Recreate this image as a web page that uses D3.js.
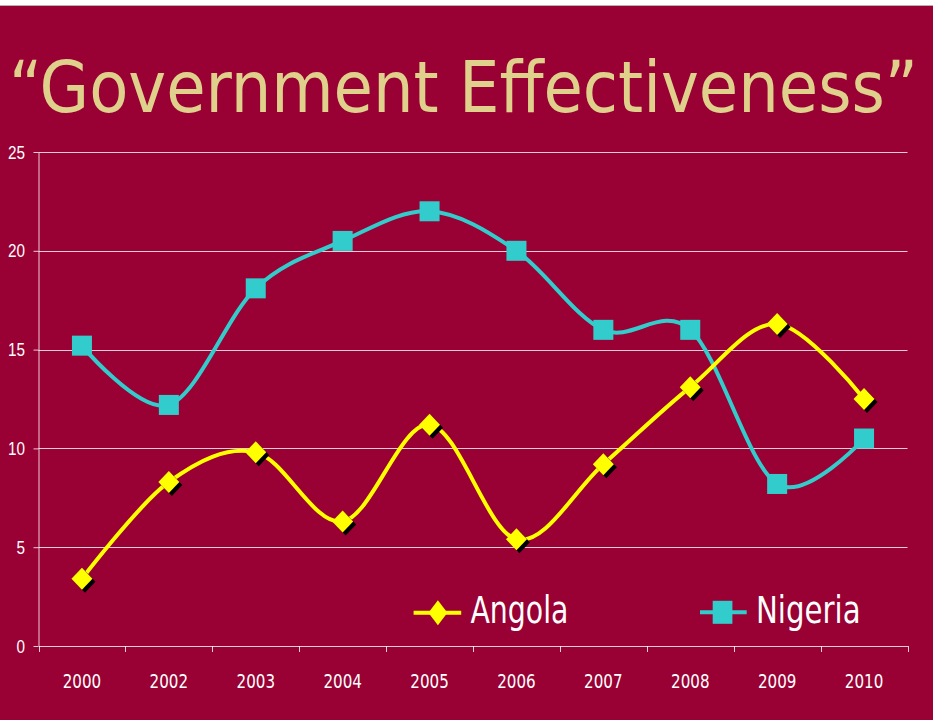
<!DOCTYPE html>
<html>
<head>
<meta charset="utf-8">
<script src="https://cdn.jsdelivr.net/npm/d3@7"></script>
<style>
  html, body { margin: 0; padding: 0; background: #fff; }
  svg { display: block; }
</style>
</head>
<body>
<svg id="chart" width="933" height="720"></svg>
<script>
// Government effectiveness scores, Angola vs Nigeria
const years = ["2000", "2002", "2003", "2004", "2005", "2006", "2007", "2008", "2009", "2010"];
const angola = [3.4, 8.3, 9.8, 6.3, 11.2, 5.4, 9.2, 13.1, 16.3, 12.5];
const nigeria = [15.2, 12.2, 18.1, 20.5, 22.0, 20.0, 16.0, 16.0, 8.2, 10.5];
const yTicks = [0, 5, 10, 15, 20, 25];
const titleText = "\u201CGovernment Effectiveness\u201D";
const seriesNames = ["Angola", "Nigeria"];

const W = 933, H = 720;
const BG = "#990033";
const YELLOW = "#FFFF00";
const TEAL = "#33CCCC";
const TAN = "#DFD08C";

const svg = d3.select("#chart");

// slide background with a thin white strip at the top
svg.append("rect").attr("x", 0).attr("y", 0).attr("width", W).attr("height", H).attr("fill", "#fff");
svg.append("rect").attr("x", 0).attr("y", 6).attr("width", W).attr("height", H - 6).attr("fill", BG);
svg.append("line").attr("x1", 0).attr("x2", W).attr("y1", 5.5).attr("y2", 5.5)
  .attr("stroke", "#b8b0b4").attr("stroke-width", 1);

// title
svg.append("text")
  .attr("x", 9).attr("y", 112)
  .attr("font-family", "'DejaVu Sans Condensed', 'DejaVu Sans', sans-serif")
  .attr("font-size", 71)
  .attr("fill", TAN)
  .attr("textLength", 909)
  .attr("lengthAdjust", "spacingAndGlyphs")
  .text(titleText);

// plot area
const plotLeft = 38.5, plotRight = 907.5, plotTop = 152, plotBottom = 646;

const x = d3.scaleBand().domain(years).range([plotLeft, plotRight]).padding(0);
const y = d3.scaleLinear().domain([0, 25]).range([plotBottom, plotTop]);
const cx = d => x(d) + x.bandwidth() / 2;

// horizontal gridlines
svg.append("g")
  .selectAll("line")
  .data(yTicks.filter(t => t > 0))
  .join("line")
  .attr("x1", plotLeft).attr("x2", plotRight)
  .attr("y1", d => Math.round(y(d)) + 0.5).attr("y2", d => Math.round(y(d)) + 0.5)
  .attr("stroke", "#fff").attr("stroke-opacity", 0.8).attr("stroke-width", 1);

// y axis
const yAxis = svg.append("g")
  .attr("transform", `translate(${plotLeft},0)`)
  .call(d3.axisLeft(y).tickValues(yTicks).tickSize(5).tickPadding(8).tickSizeOuter(0));
yAxis.select(".domain").attr("stroke", "#fff").attr("stroke-opacity", 0.8);
yAxis.selectAll(".tick line").attr("stroke", "#fff").attr("stroke-opacity", 0.8);
yAxis.selectAll(".tick text")
  .attr("fill", "#fff")
  .attr("font-family", "'Liberation Sans', Arial, sans-serif")
  .attr("font-size", 17.5)
  .attr("x", -13.5)
  .attr("dy", "0.35em")
  .attr("textLength", d => String(d).length * 8.5)
  .attr("lengthAdjust", "spacingAndGlyphs");

// x axis with ticks at category boundaries
const xAxis = svg.append("g")
  .attr("transform", `translate(0,${plotBottom})`)
  .call(d3.axisBottom(x).tickSize(0).tickPadding(0).tickSizeOuter(0));
xAxis.select(".domain").attr("stroke", "#fff").attr("stroke-opacity", 0.8);
xAxis.selectAll(".tick text")
  .attr("fill", "#fff")
  .attr("font-family", "'DejaVu Sans Condensed', 'DejaVu Sans', sans-serif")
  .attr("font-size", 20)
  .attr("y", 42).attr("dy", 0)
  .attr("textLength", 38.5)
  .attr("lengthAdjust", "spacingAndGlyphs");
const boundaries = years.map(d => x(d)).concat([plotRight]);
svg.append("g")
  .selectAll("line")
  .data(boundaries)
  .join("line")
  .attr("x1", d => Math.round(d) + 0.5).attr("x2", d => Math.round(d) + 0.5)
  .attr("y1", plotBottom).attr("y2", plotBottom + 6)
  .attr("stroke", "#fff").attr("stroke-opacity", 0.8);

// smoothed series lines
const line = d3.line()
  .x((d, i) => cx(years[i]))
  .y(d => y(d))
  .curve(d3.curveCatmullRom.alpha(0));

svg.append("path").datum(nigeria)
  .attr("d", line).attr("fill", "none")
  .attr("stroke", TEAL).attr("stroke-width", 4).attr("stroke-linejoin", "round");
svg.append("path").datum(angola)
  .attr("d", line).attr("fill", "none")
  .attr("stroke", YELLOW).attr("stroke-width", 4).attr("stroke-linejoin", "round");

// diamond marker path centered at origin
const diamond = (hw, hh) => `M0,${-hh}L${hw},0L0,${hh}L${-hw},0Z`;

// Nigeria square markers
svg.append("g")
  .selectAll("rect")
  .data(nigeria)
  .join("rect")
  .attr("x", (d, i) => cx(years[i]) - 10)
  .attr("y", d => y(d) - 10)
  .attr("width", 20).attr("height", 20)
  .attr("fill", TEAL);

// Angola diamond markers with drop shadow
const dg = svg.append("g");
dg.selectAll("path.shadow")
  .data(angola)
  .join("path")
  .attr("class", "shadow")
  .attr("d", diamond(10.5, 11))
  .attr("transform", (d, i) => `translate(${cx(years[i]) + 3},${y(d) + 3})`)
  .attr("fill", "#000");
dg.selectAll("path.mark")
  .data(angola)
  .join("path")
  .attr("class", "mark")
  .attr("d", diamond(10.5, 11))
  .attr("transform", (d, i) => `translate(${cx(years[i])},${y(d)})`)
  .attr("fill", YELLOW);

// legend
const legendFont = "'DejaVu Sans Condensed', 'DejaVu Sans', sans-serif";
const lg = svg.append("g");
// Angola entry
lg.append("line").attr("x1", 413.6).attr("x2", 461.2).attr("y1", 612.7).attr("y2", 612.7)
  .attr("stroke", YELLOW).attr("stroke-width", 4);
lg.append("path").attr("d", diamond(9.5, 12.5))
  .attr("transform", "translate(437.9,612.7)").attr("fill", YELLOW);
lg.append("text").attr("x", 470.4).attr("y", 623)
  .attr("font-family", legendFont).attr("font-size", 37).attr("fill", "#fff")
  .attr("textLength", 98).attr("lengthAdjust", "spacingAndGlyphs")
  .text(seriesNames[0]);
// Nigeria entry
lg.append("line").attr("x1", 700).attr("x2", 746.7).attr("y1", 612.3).attr("y2", 612.3)
  .attr("stroke", TEAL).attr("stroke-width", 4);
lg.append("rect").attr("x", 712.7).attr("y", 600.8).attr("width", 19.7).attr("height", 23)
  .attr("fill", TEAL);
lg.append("text").attr("x", 756).attr("y", 623)
  .attr("font-family", legendFont).attr("font-size", 37).attr("fill", "#fff")
  .attr("textLength", 104.6).attr("lengthAdjust", "spacingAndGlyphs")
  .text(seriesNames[1]);
</script>
</body>
</html>
